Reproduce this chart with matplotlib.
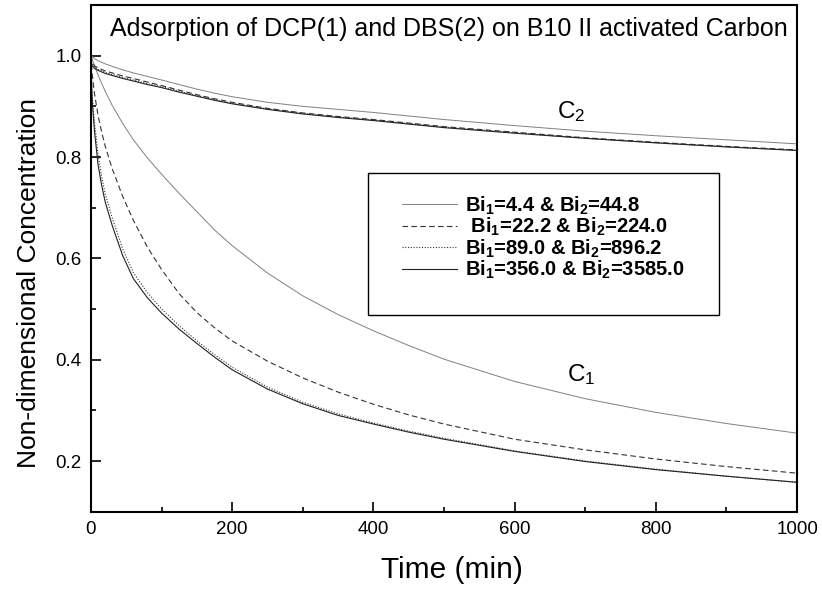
import matplotlib
matplotlib.use("Agg")
import matplotlib.pyplot as plt
from matplotlib.patches import Rectangle

plt.rcParams['font.family'] = ['Liberation Sans', 'DejaVu Sans']
plt.rcParams['mathtext.fontset'] = 'custom'
plt.rcParams['mathtext.rm'] = 'Liberation Sans'
plt.rcParams['mathtext.bf'] = 'Liberation Sans:bold'
plt.rcParams['mathtext.default'] = 'rm'

# time grid (min)
time = [0, 1, 2, 5, 10, 15, 20, 30, 45, 60, 80, 100, 125, 150, 175, 200,
        250, 300, 350, 400, 450, 500, 600, 700, 800, 900, 1000]

# C1 (DCP) curves
c1_bi4 = [1.0, 0.996, 0.992, 0.980, 0.962, 0.946, 0.930, 0.902, 0.866, 0.834, 0.798, 0.766,
          0.728, 0.692, 0.656, 0.625, 0.571, 0.526, 0.489, 0.457, 0.428, 0.401, 0.357,
          0.323, 0.296, 0.274, 0.255]
c1_bi22 = [1.0, 0.975, 0.960, 0.925, 0.882, 0.850, 0.822, 0.777, 0.722, 0.675, 0.622, 0.578,
           0.530, 0.493, 0.463, 0.437, 0.397, 0.364, 0.336, 0.312, 0.291, 0.273, 0.243,
           0.222, 0.204, 0.189, 0.176]
c1_bi89 = [1.0, 0.945, 0.918, 0.868, 0.805, 0.762, 0.728, 0.680, 0.618, 0.572, 0.532, 0.500,
           0.467, 0.437, 0.410, 0.385, 0.346, 0.316, 0.293, 0.275, 0.259, 0.245, 0.220,
           0.200, 0.184, 0.170, 0.158]
c1_bi356 = [1.0, 0.935, 0.905, 0.850, 0.785, 0.745, 0.712, 0.665, 0.605, 0.560, 0.522, 0.492,
            0.460, 0.432, 0.405, 0.380, 0.342, 0.313, 0.290, 0.273, 0.257, 0.243, 0.219,
            0.199, 0.183, 0.170, 0.158]

# C2 (DBS) curves
c2_bi4 = [1.0, 0.999, 0.998, 0.994, 0.990, 0.987, 0.984, 0.979, 0.972, 0.966, 0.959, 0.952,
          0.943, 0.934, 0.926, 0.919, 0.908, 0.900, 0.894, 0.888, 0.881, 0.874, 0.862,
          0.851, 0.842, 0.834, 0.826]
c2_bi22 = [1.0, 0.990, 0.986, 0.980, 0.976, 0.973, 0.970, 0.966, 0.960, 0.955, 0.948, 0.941,
           0.932, 0.923, 0.915, 0.908, 0.896, 0.887, 0.880, 0.874, 0.867, 0.860, 0.849,
           0.838, 0.829, 0.821, 0.814]
c2_bi89 = [1.0, 0.985, 0.982, 0.977, 0.973, 0.970, 0.967, 0.963, 0.957, 0.952, 0.945, 0.939,
           0.930, 0.921, 0.913, 0.906, 0.895, 0.886, 0.879, 0.873, 0.866, 0.859, 0.848,
           0.837, 0.828, 0.820, 0.813]
c2_bi356 = [1.0, 0.982, 0.979, 0.975, 0.971, 0.968, 0.965, 0.961, 0.955, 0.950, 0.943, 0.937,
            0.928, 0.920, 0.912, 0.905, 0.894, 0.885, 0.878, 0.872, 0.865, 0.858, 0.847,
            0.837, 0.828, 0.820, 0.813]

labels = [r"Bi$_\mathbf{1}$=4.4 & Bi$_\mathbf{2}$=44.8",
          r" Bi$_\mathbf{1}$=22.2 & Bi$_\mathbf{2}$=224.0",
          r"Bi$_\mathbf{1}$=89.0 & Bi$_\mathbf{2}$=896.2",
          r"Bi$_\mathbf{1}$=356.0 & Bi$_\mathbf{2}$=3585.0"]

styles = [dict(color='#808080', lw=0.7, ls='-'),
          dict(color='#333333', lw=0.8, ls=(0, (5, 3))),
          dict(color='#333333', lw=0.8, ls=(0, (1, 1.5))),
          dict(color='#222222', lw=0.8, ls='-')]

fig = plt.figure(figsize=(8.22, 5.91), dpi=100)
ax = fig.add_axes([0.1107, 0.1342, 0.859, 0.8573])

handles = []
for c1, c2, st in zip([c1_bi4, c1_bi22, c1_bi89, c1_bi356],
                      [c2_bi4, c2_bi22, c2_bi89, c2_bi356], styles):
    h, = ax.plot(time, c1, **st)
    ax.plot(time, c2, **st)
    handles.append(h)

ax.set_xlim(0, 1000)
ax.set_ylim(0.1, 1.1)
ax.set_xticks([0, 200, 400, 600, 800, 1000])
ax.set_xticks([100, 300, 500, 700, 900], minor=True)
ax.set_yticks([0.2, 0.4, 0.6, 0.8, 1.0])
ax.set_yticks([0.1, 0.3, 0.5, 0.7, 0.9], minor=True)
ax.set_yticklabels(['0.2', '0.4', '0.6', '0.8', '1.0'])
ax.tick_params(which='both', direction='in', width=1.2, labelsize=13.5, pad=7)
ax.tick_params(which='major', length=7)
ax.tick_params(which='minor', length=3.6)
for s in ax.spines.values():
    s.set_linewidth(1.5)

ax.set_xlabel('Time (min)', fontsize=21.5)
ax.set_ylabel('Non-dimensional Concentration', fontsize=19)
ax.xaxis.set_label_coords(0.511, -0.088)
ax.yaxis.set_label_coords(-0.071, 0.451)

ax.text(0.027, 0.939, 'Adsorption of DCP(1) and DBS(2) on B10 II activated Carbon',
        transform=ax.transAxes, fontsize=18)
ax.text(660, 0.876, r'C$_2$', fontsize=17.5)
ax.text(674, 0.358, r'C$_1$', fontsize=17.5)

# legend frame drawn separately (box is taller than the entries)
ax.add_patch(Rectangle((0.392, 0.388), 0.4975, 0.280, transform=ax.transAxes,
                       fill=False, edgecolor='black', lw=1.0, zorder=5))
ax.legend(handles, labels, loc='upper left', bbox_to_anchor=(0.4405, 0.626),
          frameon=False, borderpad=0, borderaxespad=0, handlelength=2.75,
          handletextpad=0.4, labelspacing=-0.04,
          prop={'weight': 'bold', 'size': 14.5})

fig.savefig('out.png', dpi=100)
